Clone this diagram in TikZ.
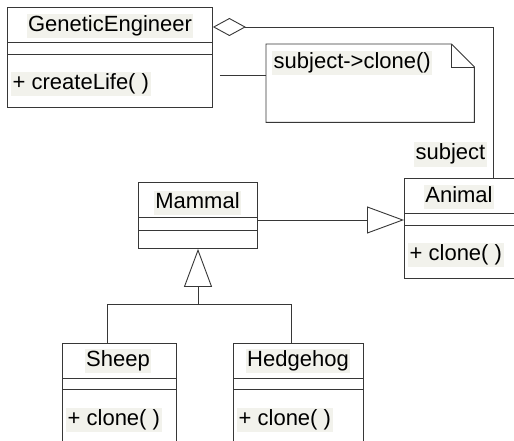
\documentclass[tikz,border=0pt]{standalone}
\usepackage{fontspec}
\setmainfont{Liberation Sans}
\usetikzlibrary{arrows.meta}
\definecolor{hl}{RGB}{242,242,236}
\definecolor{ln}{RGB}{55,55,55}
\tikzset{
  comp/.style={draw=ln, line width=0.9pt, inner sep=0pt, anchor=north west, minimum width=#1},
  lbl/.style={fill=hl, inner sep=1.5pt, text height=16pt, text depth=5pt, text=black,
              font=\fontsize{22}{26}\selectfont},
  wire/.style={draw=ln, line width=0.9pt},
  gen/.style={wire, -{Triangle[open, length=37pt, width=27pt, line width=0.9pt]}},
  agg/.style={wire, {Diamond[open, length=33pt, width=18pt, line width=0.9pt]}-},
}
\begin{document}
\begin{tikzpicture}[x=1pt, y=-1pt]
\clip (0,0) rectangle (514,441);
\fill[white] (0,0) rectangle (514,441);

% GeneticEngineer
\node[comp=205pt, minimum height=35pt] (geN) at (7,7) {};
\node[comp=205pt, minimum height=12pt] (geA) at (7,42) {};
\node[comp=205pt, minimum height=53pt] (geO) at (7,54) {};
\node[lbl] (geT) at (110,26) {GeneticEngineer};
\node[lbl, anchor=west] (geOp) at (11,84.5) {+ createLife( )};

% Note
\node[minimum width=208pt, minimum height=78pt, inner sep=0pt, anchor=north west] (note) at (266,44) {};
\draw[wire] (note.north west) -- ([xshift=-23pt]note.north east) -- ([yshift=-23pt]note.north east)
  -- (note.south east) -- (note.south west) -- cycle;
\draw[wire] ([xshift=-23pt]note.north east) -- ([xshift=-23pt,yshift=-23pt]note.north east) -- ([yshift=-23pt]note.north east);
\node[lbl, anchor=west] (noteT) at (272,63.5) {subject->clone()};

% Animal
\node[comp=130pt, minimum height=35pt] (anN) at (404,178) {};
\node[comp=130pt, minimum height=12pt] (anA) at (404,213) {};
\node[comp=130pt, minimum height=53pt] (anO) at (404,225) {};
\node[lbl] (anT) at (459,196.5) {Animal};
\node[lbl, anchor=west] (anOp) at (408,255) {+ clone( )};

% subject label
\node[lbl] (subj) at (450.5,154.5) {subject};

% Mammal
\node[comp=119pt, minimum height=35pt] (maN) at (138,182) {};
\node[comp=119pt, minimum height=13pt] (maA) at (138,217) {};
\node[comp=119pt, minimum height=18pt] (maO) at (138,230) {};
\node[lbl] (maT) at (197.5,202.5) {Mammal};

% Sheep
\node[comp=114pt, minimum height=35pt] (shN) at (62,343) {};
\node[comp=114pt, minimum height=11pt] (shA) at (62,378) {};
\node[comp=114pt, minimum height=70pt] (shO) at (62,389) {};
\node[lbl] (shT) at (118,361) {Sheep};
\node[lbl, anchor=west] (shOp) at (66,419.5) {+ clone( )};

% Hedgehog
\node[comp=130pt, minimum height=35pt] (hhN) at (233,343) {};
\node[comp=130pt, minimum height=11pt] (hhA) at (233,378) {};
\node[comp=130pt, minimum height=70pt] (hhO) at (233,389) {};
\node[lbl] (hhT) at (298,361) {Hedgehog};
\node[lbl, anchor=west] (hhOp) at (237,419.5) {+ clone( )};

% Connectors
\coordinate (aggE) at (geN.east |- 0,27);
\draw[agg] (aggE) -- (493,27) -- (anN.north -| 493,0);
\draw[wire, shorten <=7pt] (geO.east |- 0,75) -- (note.west |- 0,75);
\draw[gen] (maA.east |- 0,220) -- (anN.west |- 0,220);
\coordinate (jn) at (198,304);
\draw[wire] (shN.north -| 107,0) -- (107,304) -- (291,304) -- (hhN.north -| 291,0);
\draw[wire, -{Triangle[open, length=38pt, width=28pt, line width=0.9pt]}] (jn) -- (maO.south -| jn);
\end{tikzpicture}
\end{document}
